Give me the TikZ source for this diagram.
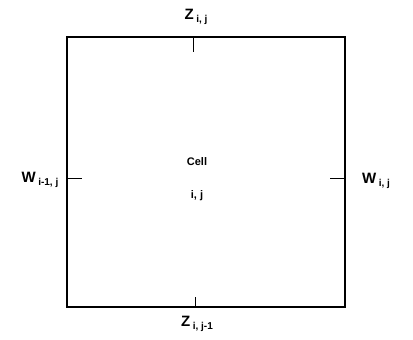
\documentclass[tikz,border=0pt]{standalone}
\usepackage{fontspec}
\setmainfont{Liberation Sans}
\newcommand{\sbx}[1]{\raisebox{-3pt}{\fontsize{10}{10}\selectfont\bfseries #1}}
\begin{document}
\begin{tikzpicture}[x=1pt,y=-1pt,
  lbl/.style={font=\bfseries\fontsize{15}{16}\selectfont, inner sep=1pt},
  ctr/.style={font=\bfseries\fontsize{11}{12}\selectfont, inner sep=1pt},
  edge/.style={line width=1.3pt},
  tick/.style={line width=1pt}]
\useasboundingbox (0,0) rectangle (413,340);
\coordinate (tl) at (67,37);
\coordinate (br) at (345,307);
\draw[edge] (tl) rectangle (br);
\coordinate (t1) at (193,37); \coordinate (t2) at (193,52);
\coordinate (b1) at (195,307); \coordinate (b2) at (195,297);
\coordinate (l1) at (67,178); \coordinate (l2) at (82,178);
\coordinate (r1) at (345,178); \coordinate (r2) at (330,178);
\draw[tick] (t1) -- (t2);
\draw[tick] (b1) -- (b2);
\draw[tick] (l1) -- (l2);
\draw[tick] (r1) -- (r2);
\node[lbl] (zt) at (196,17) {Z\,\sbx{i, j}};
\node[lbl] (zb) at (197,324) {Z\,\sbx{i, j-1}};
\node[lbl] (wl) at (40,180) {W\,\sbx{i-1, j}};
\node[lbl] (wr) at (376,181) {W\,\sbx{i, j}};
\node[ctr] (cell) at (197,162) {Cell};
\node[ctr] (ij) at (197,196) {i, j};
\end{tikzpicture}
\end{document}
